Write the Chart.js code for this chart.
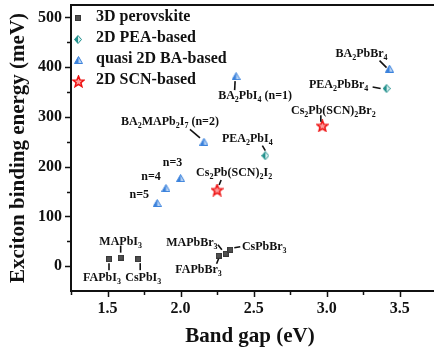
<!DOCTYPE html>
<html>
<head>
<meta charset="utf-8">
<script src="https://cdn.jsdelivr.net/npm/chart.js@4/dist/chart.umd.min.js"></script>
<style>
  html, body { margin: 0; padding: 0; background: #fff; overflow: hidden; }
</style>
</head>
<body>
<canvas id="chart" width="434" height="354"></canvas>
<script>
// series names (legend order)
var categories = ['3D perovskite', '2D PEA-based', 'quasi 2D BA-based', '2D SCN-based'];

// 3D perovskites
var perovGap = [1.51, 1.59, 1.71, 2.26, 2.31, 2.34];
var perovEb = [14, 17, 14, 21, 25, 33];
var perovNames = ['FAPbI_3', 'MAPbI_3', 'CsPbI_3', 'FAPbBr_3', 'MAPbBr_3', 'CsPbBr_3'];

// 2D PEA
var peaGap = [2.58, 3.41];
var peaEb = [222, 357];
var peaNames = ['PEA_2PbI_4', 'PEA_2PbBr_4'];

// quasi 2D BA
var baGap = [2.38, 2.16, 2.00, 1.90, 1.84, 3.43];
var baEb = [382, 250, 177, 157, 127, 397];
var baNames = ['BA_2PbI_4 (n=1)', 'BA_2MAPb_2I_7 (n=2)', 'n=3', 'n=4', 'n=5', 'BA_2PbBr_4'];

// 2D SCN
var scnGap = [2.25, 2.97];
var scnEb = [153, 282];
var scnNames = ['Cs_2Pb(SCN)_2I_2', 'Cs_2Pb(SCN)_2Br_2'];

var xTicks = [1.5, 2.0, 2.5, 3.0, 3.5];
var yTicks = [0, 100, 200, 300, 400, 500];

// where each annotation sits relative to its point (px): text centre, leader line
var labelLayout = [
    // dataset, index, dx, dy, line [x1,y1,x2,y2] or null
    [0, 0, -7, 19, [0, 4, 0, 11]],
    [0, 1, 0, -16, [0, -12, 0, -5]],
    [0, 2, 5, 19, [2, 4, 2, 11]],
    [0, 3, -20, 14, [0, 3, -2, 8]],
    [0, 4, -34, -11, [-8, -9, -4, -4]],
    [0, 5, 34, -3, [4, -2, 10, -3]],
    [1, 0, -18, -17, [-3, -10, 0, -5]],
    [1, 1, -48, -4, [-14, -1.5, -6, 0]],
    [2, 0, 19, 20, [-1, 5, -1.5, 14]],
    [2, 1, -34, -20, [-14, -12.5, -4, -4]],
    [2, 2, -8, -15, null],
    [2, 3, -15, -11, null],
    [2, 4, -18, -8, null],
    [2, 5, -28, -15, [-10, -8, -3, -1]],
    [3, 0, 17, -17, [4, -10, 2, -5]],
    [3, 1, 11, -15, [-1.5, -10.5, -1.5, -4]]
];
var allNames = [perovNames, peaNames, baNames, scnNames];

function makeCanvas(w, h, fn) {
    var c = document.createElement('canvas');
    c.width = w;
    c.height = h;
    fn(c.getContext('2d'));
    return c;
}

var squareImg = makeCanvas(6, 6, function (g) {
    g.fillStyle = '#505050';
    g.fillRect(0, 0, 6, 6);
    g.strokeStyle = '#383838';
    g.strokeRect(0.5, 0.5, 5, 5);
});

var diamondImg = makeCanvas(8, 9, function (g) {
    g.beginPath();
    g.moveTo(4, 0.5); g.lineTo(7.5, 4.5); g.lineTo(4, 8.5); g.lineTo(0.5, 4.5); g.closePath();
    g.fillStyle = '#d8eeee';
    g.fill();
    g.beginPath();
    g.moveTo(4, 0.5); g.lineTo(4, 8.5); g.lineTo(0.5, 4.5); g.closePath();
    g.fillStyle = '#23918d';
    g.fill();
    g.beginPath();
    g.moveTo(4, 0.5); g.lineTo(7.5, 4.5); g.lineTo(4, 8.5); g.lineTo(0.5, 4.5); g.closePath();
    g.strokeStyle = '#23918d';
    g.lineWidth = 1;
    g.stroke();
});

var triangleImg = makeCanvas(9, 8, function (g) {
    g.beginPath();
    g.moveTo(4.5, 0.5); g.lineTo(8.5, 7.5); g.lineTo(0.5, 7.5); g.closePath();
    g.fillStyle = '#b9d4f4';
    g.fill();
    g.beginPath();
    g.moveTo(4.5, 0.5); g.lineTo(4.5, 7.5); g.lineTo(0.5, 7.5); g.closePath();
    g.fillStyle = '#3b82dc';
    g.fill();
    g.beginPath();
    g.moveTo(4.5, 0.5); g.lineTo(8.5, 7.5); g.lineTo(0.5, 7.5); g.closePath();
    g.strokeStyle = '#3b82dc';
    g.stroke();
});

var starImg = makeCanvas(13, 13, function (g) {
    g.beginPath();
    for (var i = 0; i < 10; i++) {
        var r = i % 2 === 0 ? 5.8 : 2.5;
        var a = -Math.PI / 2 + i * Math.PI / 5;
        var px = 6.5 + r * Math.cos(a), py = 6.9 + r * Math.sin(a);
        if (i === 0) g.moveTo(px, py); else g.lineTo(px, py);
    }
    g.closePath();
    g.fillStyle = '#ff9a9a';
    g.fill();
    g.strokeStyle = '#ee1111';
    g.lineWidth = 1.5;
    g.stroke();
});

var pointImgs = [squareImg, diamondImg, triangleImg, starImg];

function toPoints(xs, ys) {
    return xs.map(function (x, i) { return { x: x, y: ys[i] }; });
}

var FONT = '"Liberation Serif", "Times New Roman", serif';

// text with _2 style subscripts
function drawRich(g, text, cx, cy, size) {
    var parts = text.split(/_(\d+)/);
    var subSize = Math.round(size * 0.7);
    var w = 0;
    for (var i = 0; i < parts.length; i++) {
        g.font = 'bold ' + (i % 2 ? subSize : size) + 'px ' + FONT;
        w += g.measureText(parts[i]).width;
    }
    var x = cx - w / 2;
    g.textAlign = 'left';
    g.textBaseline = 'middle';
    for (var j = 0; j < parts.length; j++) {
        g.font = 'bold ' + (j % 2 ? subSize : size) + 'px ' + FONT;
        g.fillText(parts[j], x, j % 2 ? cy + 4 : cy);
        x += g.measureText(parts[j]).width;
    }
}

var decorPlugin = {
    id: 'decor',
    afterDraw: function (chart) {
        var g = chart.ctx;
        var area = chart.chartArea;
        var xs = chart.scales.x, ys = chart.scales.y;
        g.save();
        g.strokeStyle = '#111';
        g.fillStyle = '#111';

        // frame
        g.lineWidth = 2;
        g.beginPath();
        g.moveTo(chart.width, area.top);
        g.lineTo(area.left, area.top);
        g.lineTo(area.left, area.bottom);
        g.lineTo(chart.width, area.bottom);
        g.stroke();

        // ticks
        g.lineWidth = 1.5;
        g.beginPath();
        for (var v = 1.25; v < 3.71; v += 0.25) {
            var px = Math.round(xs.getPixelForValue(v)) + 0.5;
            var major = Math.abs(v * 2 - Math.round(v * 2)) < 1e-6;
            g.moveTo(px, area.bottom);
            g.lineTo(px, area.bottom + (major ? 6 : 4));
        }
        for (var t = 0; t <= 500; t += 50) {
            var py = Math.round(ys.getPixelForValue(t)) + 0.5;
            var maj = t % 100 === 0;
            g.moveTo(area.left, py);
            g.lineTo(area.left - (maj ? 6 : 4), py);
        }
        g.stroke();

        // annotations
        g.lineWidth = 1.6;
        labelLayout.forEach(function (l) {
            var el = chart.getDatasetMeta(l[0]).data[l[1]];
            if (l[4]) {
                g.beginPath();
                g.moveTo(el.x + l[4][0], el.y + l[4][1]);
                g.lineTo(el.x + l[4][2], el.y + l[4][3]);
                g.stroke();
            }
            drawRich(g, allNames[l[0]][l[1]], el.x + l[2], el.y + l[3], 12);
        });

        // legend
        categories.forEach(function (name, i) {
            var ly = 17 + i * 21;
            var img = pointImgs[i];
            g.drawImage(img, Math.round(78 - img.width / 2), Math.round(ly - img.height / 2 + 1));
            g.font = 'bold 16px ' + FONT;
            g.textAlign = 'left';
            g.textBaseline = 'middle';
            g.fillText(name, 96, ly);
        });
        g.restore();
    }
};

function dataset(label, xs, ys, img) {
    return {
        label: label,
        data: toPoints(xs, ys),
        pointStyle: img,
        pointRadius: 4,
        pointHoverRadius: 4,
        showLine: false
    };
}

function noPad(s) {
    s.paddingTop = 0;
    s.paddingBottom = 0;
    s.paddingLeft = 0;
    s.paddingRight = 0;
}

new Chart(document.getElementById('chart'), {
    type: 'scatter',
    data: {
        datasets: [
            dataset(categories[0], perovGap, perovEb, squareImg),
            dataset(categories[1], peaGap, peaEb, diamondImg),
            dataset(categories[2], baGap, baEb, triangleImg),
            dataset(categories[3], scnGap, scnEb, starImg)
        ]
    },
    options: {
        responsive: false,
        animation: false,
        devicePixelRatio: 1,
        layout: { padding: { top: 4, right: 0, left: 0, bottom: 0 } },
        plugins: {
            legend: { display: false },
            tooltip: { enabled: false }
        },
        scales: {
            x: {
                type: 'linear',
                min: 1.25,
                max: 3.7,
                afterFit: function (s) { s.height = 63; noPad(s); },
                afterBuildTicks: function (s) {
                    s.ticks = xTicks.map(function (v) { return { value: v }; });
                },
                grid: { display: false, drawTicks: false },
                border: { display: false },
                ticks: {
                    padding: 8,
                    color: '#111',
                    font: { family: FONT, size: 16, weight: 'bold' },
                    callback: function (v) { return v.toFixed(1); }
                },
                title: {
                    display: true,
                    text: 'Band gap (eV)',
                    color: '#111',
                    padding: 5,
                    font: { family: FONT, size: 21, weight: 'bold' }
                }
            },
            y: {
                min: -50,
                max: 525,
                afterFit: function (s) { s.width = 71; noPad(s); },
                afterBuildTicks: function (s) {
                    s.ticks = yTicks.map(function (v) { return { value: v }; });
                },
                grid: { display: false, drawTicks: false },
                border: { display: false },
                ticks: {
                    padding: 9,
                    color: '#111',
                    font: { family: FONT, size: 16, weight: 'bold' },
                    callback: function (v) { return String(v); }
                },
                title: {
                    display: true,
                    text: 'Exciton binding energy (meV)',
                    color: '#111',
                    padding: 6,
                    font: { family: FONT, size: 21, weight: 'bold' }
                }
            }
        }
    },
    plugins: [decorPlugin]
});
</script>
</body>
</html>
